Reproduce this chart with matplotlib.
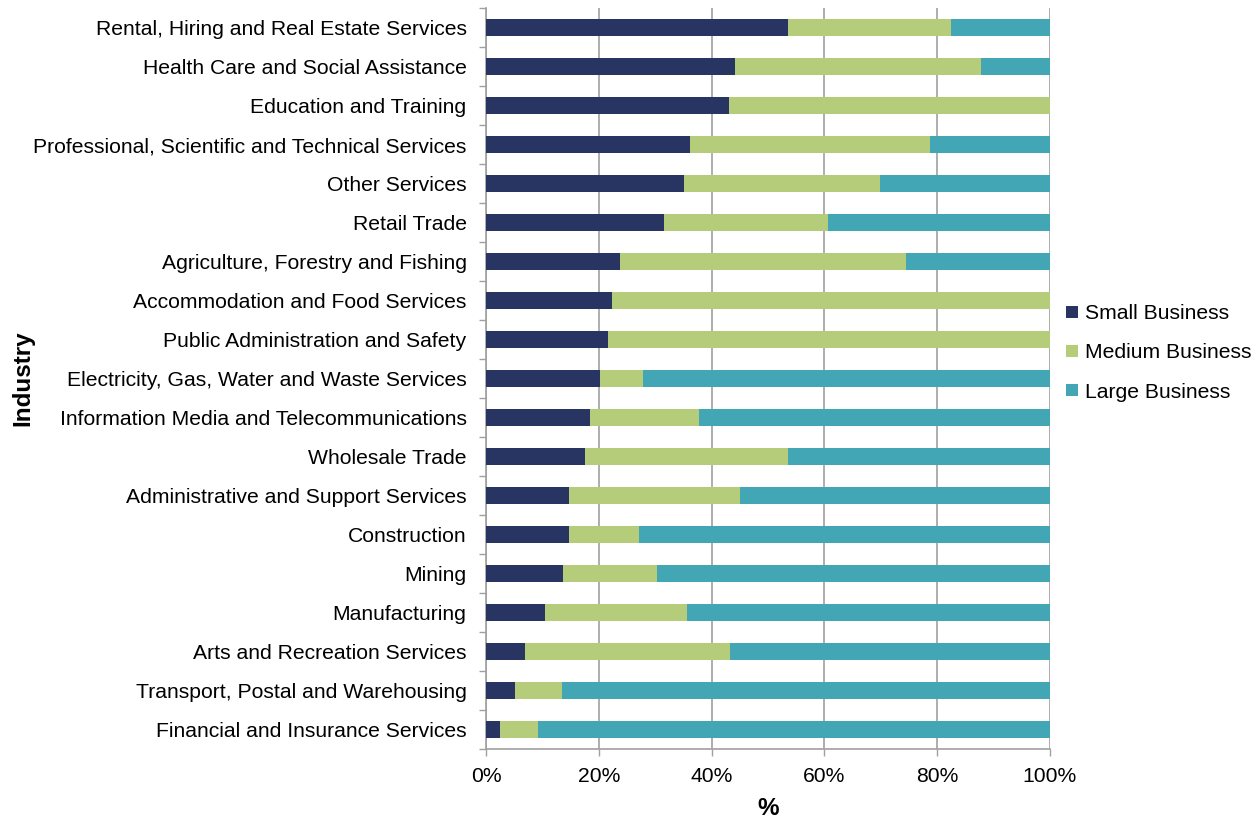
import matplotlib
matplotlib.use("Agg")
import matplotlib.pyplot as plt
import numpy as np
from matplotlib.ticker import FixedLocator, PercentFormatter

plt.rcParams['font.family'] = ['Liberation Sans', 'DejaVu Sans']

industries = [
    "Rental, Hiring and Real Estate Services",
    "Health Care and Social Assistance",
    "Education and Training",
    "Professional, Scientific and Technical Services",
    "Other Services",
    "Retail Trade",
    "Agriculture, Forestry and Fishing",
    "Accommodation and Food Services",
    "Public Administration and Safety",
    "Electricity, Gas, Water and Waste Services",
    "Information Media and Telecommunications",
    "Wholesale Trade",
    "Administrative and Support Services",
    "Construction",
    "Mining",
    "Manufacturing",
    "Arts and Recreation Services",
    "Transport, Postal and Warehousing",
    "Financial and Insurance Services",
]
small = [53.6, 44.1, 43.1, 36.2, 35.1, 31.5, 23.7, 22.3, 21.7, 20.3,
         18.4, 17.5, 14.8, 14.7, 13.7, 10.5, 7.0, 5.2, 2.4]
medium = [28.9, 43.7, 56.9, 42.6, 34.7, 29.1, 50.7, 77.7, 78.3, 7.5,
          19.3, 36.1, 30.3, 12.5, 16.7, 25.2, 36.2, 8.3, 6.9]
large = [100 - s - m for s, m in zip(small, medium)]

series_names = ["Small Business", "Medium Business", "Large Business"]
colors = ["#283562", "#B5CC7A", "#42A6B5"]

fig = plt.figure(figsize=(12.58, 8.22), dpi=100)
ax = fig.add_axes([486/1258, 1 - 749/822, (1050-486)/1258, (749-8)/822])

y = np.arange(len(industries))
h = 0.44
s = np.array(small); m = np.array(medium); l = np.array(large)
ax.barh(y, s, height=h, color=colors[0], label=series_names[0], zorder=3)
ax.barh(y, m, left=s, height=h, color=colors[1], label=series_names[1], zorder=3)
ax.barh(y, l, left=s + m, height=h, color=colors[2], label=series_names[2], zorder=3)

fs = 15.2
ax.set_xlim(0, 100)
ax.set_ylim(len(industries) - 0.5, -0.5)
ax.set_xticks([0, 20, 40, 60, 80, 100])
ax.xaxis.set_major_formatter(PercentFormatter(decimals=0))
ax.set_yticks(y)
ax.set_yticklabels(industries)
ax.yaxis.set_minor_locator(FixedLocator(np.arange(-0.5, len(industries), 1.0)))
ax.tick_params(axis='y', which='major', length=0, pad=14, labelsize=fs)
ax.tick_params(axis='y', which='minor', length=5, color='#A0A0A0', width=1)
ax.tick_params(axis='x', length=5, color='#A0A0A0', width=1, labelsize=fs, pad=8)

ax.grid(axis='x', color='#A0A0A0', linewidth=1.2, zorder=0)
for side in ['top', 'right']:
    ax.spines[side].set_visible(False)
for side in ['left', 'bottom']:
    ax.spines[side].set_color('#A0A0A0')
    ax.spines[side].set_linewidth(1.2)

ax.set_xlabel('%', fontsize=17.5, fontweight='bold', labelpad=8)
ax.set_ylabel('Industry', fontsize=17.5, fontweight='bold')
ax.yaxis.set_label_coords(-(486 - 34) / 564, 0.5)

leg = fig.legend(loc='center left', bbox_to_anchor=(1058/1258, 1 - 353/822),
                 frameon=False, fontsize=fs, handlelength=0.55, handleheight=0.55,
                 handletextpad=0.35, labelspacing=0.95, borderaxespad=0)

fig.savefig('out.png', dpi=100)
